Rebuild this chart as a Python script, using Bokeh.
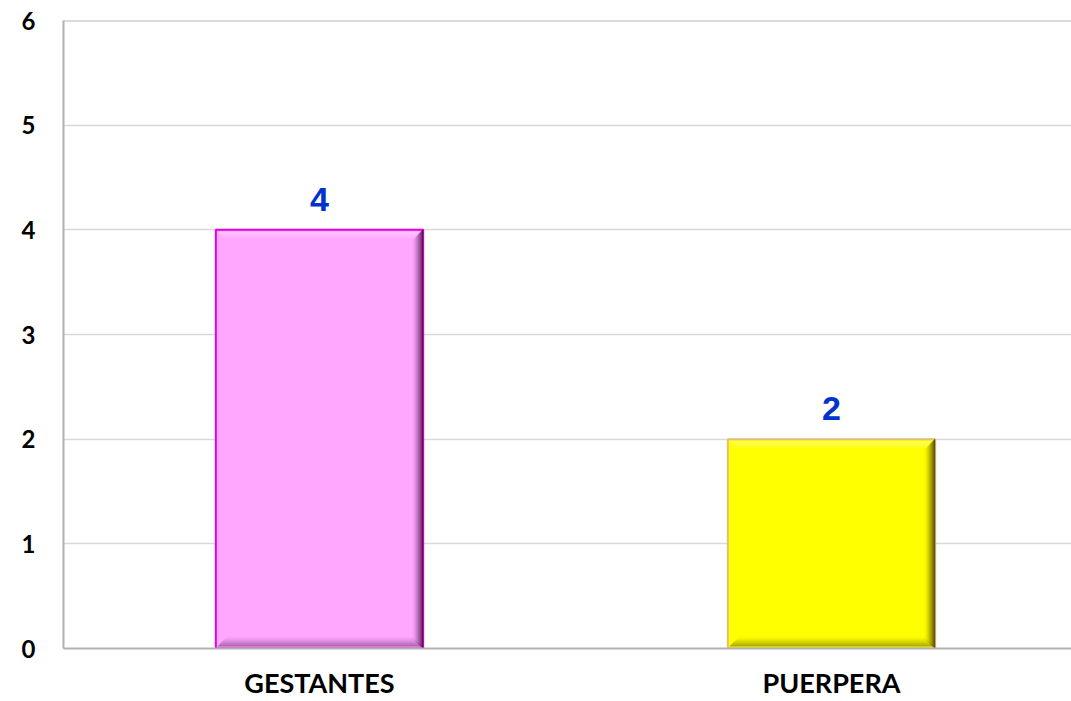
from bokeh.plotting import figure
from bokeh.models import Range1d, FixedTicker, ColumnDataSource, Span
from bokeh.core.properties import value
from bokeh.embed import file_html
from bokeh.resources import INLINE

categories = ["GESTANTES", "PUERPERA"]
counts = [4, 2]
fill_colors = ["#FFA6FF", "#FFFF00"]
edge_colors = ["#E000E0", "#E0C078"]
shade_colors = ["#3A0038", "#3A2C00"]
y_ticks = [0, 1, 2, 3, 4, 5, 6]

xs = [i + 0.5 for i in range(len(categories))]
bar_w = 0.405
px_x = 1 / 512.0
px_y = 6 / 628.0
lefts = [x - bar_w / 2 for x in xs]
rights = [x + bar_w / 2 for x in xs]

p = figure(width=1071, height=701, output_backend="svg", toolbar_location=None,
           x_range=Range1d(0, 1008 / 512.0), y_range=Range1d(0, 6),
           min_border_left=63, min_border_right=0, min_border_top=20, min_border_bottom=53)
p.outline_line_color = None
p.background_fill_color = "white"
p.border_fill_color = "white"

src = ColumnDataSource(dict(x=xs, top=counts, fill=fill_colors, edge=edge_colors,
                            shade=shade_colors, label=[str(c) for c in counts]))

# main bars
p.vbar(x="x", top="top", bottom=0, width=bar_w, source=src, fill_color="fill",
       line_color="edge", line_width=2)

# bevel: top highlight
for k in range(8):
    p.quad(left=[l + (2 + k) * px_x for l in lefts], right=[r - (2 + k) * px_x for r in rights],
           top=[c - (2 + k) * px_y for c in counts], bottom=[c - (3 + k) * px_y for c in counts],
           fill_color="white", fill_alpha=0.35 * (1 - k / 8.0), line_color=None)
# bevel: bottom darker band
for k in range(10):
    p.quad(left=[l + (2 + k) * px_x for l in lefts], right=[r - (2 + k) * px_x for r in rights],
           top=[(2 + k + 1) * px_y for _ in counts], bottom=[(2 + k) * px_y for _ in counts],
           fill_color=shade_colors, fill_alpha=0.45 * (1 - k / 10.0) ** 1.5, line_color=None)
# bevel: right dark edge
for k in range(11):
    p.quad(left=[r - (k + 1) * px_x for r in rights], right=[r - k * px_x for r in rights],
           top=[c - k * px_y for c in counts], bottom=[k * px_y for _ in counts],
           fill_color=shade_colors, fill_alpha=0.9 * (1 - k / 11.0) ** 1.6, line_color=None)

# value labels
p.text(x="x", y="top", text="label", source=src, text_align="center", text_baseline="bottom",
       y_offset=-19, text_font=value("Liberation Sans"), text_font_style="bold",
       text_font_size="34px", text_color="#0033CC")

# axes
p.yaxis.ticker = FixedTicker(ticks=y_ticks)
p.yaxis.major_label_text_font = "Lato"
p.yaxis.major_label_text_font_style = "bold"
p.yaxis.major_label_text_font_size = "24px"
p.yaxis.major_label_text_color = "black"
p.yaxis.major_tick_line_color = None
p.yaxis.minor_tick_line_color = None
p.yaxis.axis_line_color = "#B0B0B0"
p.yaxis.axis_line_width = 2
p.yaxis.major_label_standoff = 22

p.xaxis.ticker = FixedTicker(ticks=xs)
p.xaxis.major_label_overrides = {x: c for x, c in zip(xs, categories)}
p.xaxis.major_label_text_font = "Lato"
p.xaxis.major_label_text_font_style = "bold"
p.xaxis.major_label_text_font_size = "27px"
p.xaxis.major_label_text_color = "black"
p.xaxis.major_tick_line_color = None
p.xaxis.minor_tick_line_color = None
p.xaxis.axis_line_color = "#B0B0B0"
p.xaxis.axis_line_width = 2
p.xaxis.major_label_standoff = 11

p.xgrid.grid_line_color = None
p.ygrid.ticker = FixedTicker(ticks=y_ticks[1:])
p.ygrid.grid_line_color = "#D9D9D9"
p.ygrid.grid_line_width = 1.5
p.add_layout(Span(location=y_ticks[-1], dimension="width", line_color="#B8B8B8", line_width=2))

open("out.html", "w").write(file_html(p, INLINE))
